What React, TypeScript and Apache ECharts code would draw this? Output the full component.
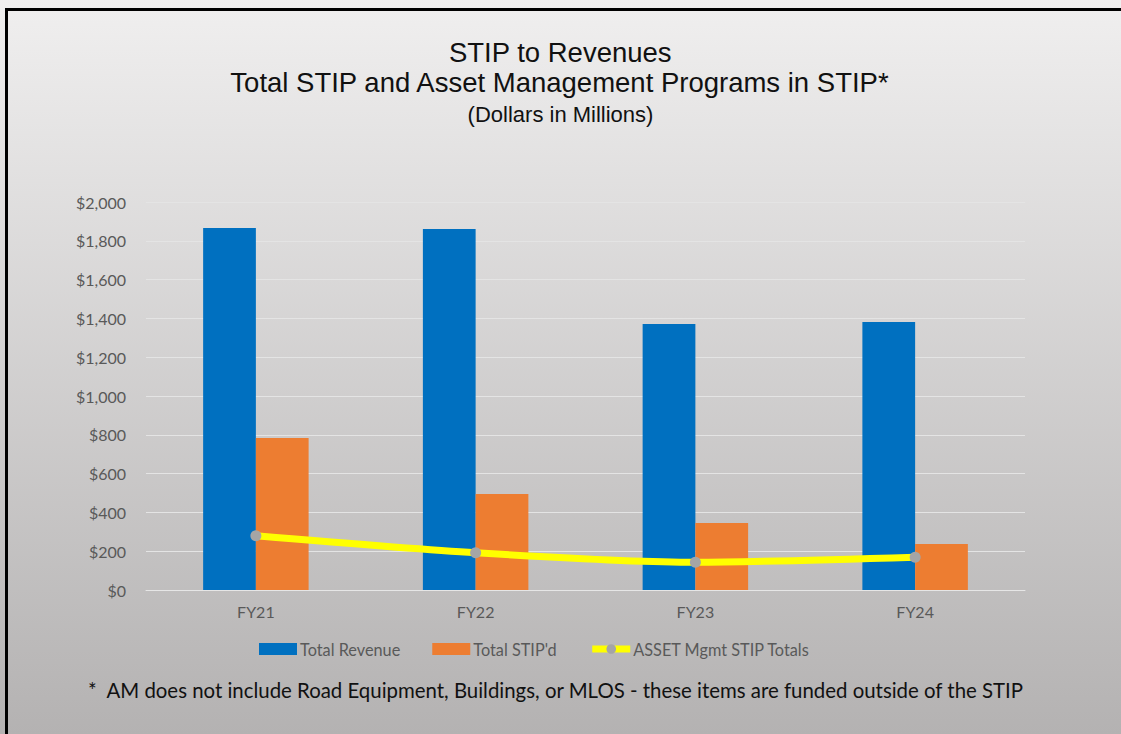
import React, { useEffect, useRef } from "react";
import * as echarts from "echarts";

const categories = ["FY21", "FY22", "FY23", "FY24"];
const totalRevenue = [1866, 1861, 1371, 1381];
const totalStipd = [784, 495, 345, 237];
const assetMgmt = [280, 192, 143, 169];
const yTicks = { min: 0, max: 2000, interval: 200 };

const titleLines = [
  "STIP to Revenues",
  "Total STIP and Asset Management Programs in STIP*",
  "(Dollars in Millions)",
];
const footnote =
  "*  AM does not include Road Equipment, Buildings, or MLOS - these items are funded outside of the STIP";

export default function App() {
  const ref = useRef<HTMLDivElement>(null);
  useEffect(() => {
    if (!ref.current) return;
    const chart = echarts.init(ref.current, null, { renderer: "svg" });
    const labelFont = "Lato, 'Open Sans', sans-serif";
    const titleFont = "'Liberation Sans', Arial, sans-serif";
    chart.setOption({
      animation: false,
      backgroundColor: {
        type: "linear",
        x: 0,
        y: 0,
        x2: 0,
        y2: 1,
        colorStops: [
          { offset: 0, color: "#f0efef" },
          { offset: 1, color: "#b4b2b2" },
        ],
      },
      grid: { left: 146, right: 96, top: 202, bottom: 144, containLabel: false },
      legend: {
        left: 254,
        top: 636,
        itemWidth: 38,
        itemHeight: 12,
        itemGap: 32,
        textStyle: { fontFamily: labelFont, fontSize: 16.3, color: "#595959", padding: [0, 0, 0, -2] },
        data: [
          { name: "Total Revenue", icon: "rect" },
          { name: "Total STIP'd", icon: "rect" },
          { name: "ASSET Mgmt STIP Totals", lineStyle: { width: 7 } },
        ],
      },
      xAxis: {
        type: "category",
        data: categories,
        axisLine: { lineStyle: { color: "#e6e6e6", width: 1 } },
        axisTick: { show: false },
        axisLabel: { fontFamily: labelFont, fontSize: 16, color: "#595959", margin: 13 },
      },
      yAxis: {
        type: "value",
        min: yTicks.min,
        max: yTicks.max,
        interval: yTicks.interval,
        axisLine: { show: false },
        axisTick: { show: false },
        splitLine: { lineStyle: { color: "#e4e4e4", width: 1 } },
        axisLabel: {
          fontFamily: labelFont,
          fontSize: 16,
          color: "#595959",
          margin: 20,
          formatter: (v: number) => "$" + v.toLocaleString("en-US"),
        },
      },
      series: [
        {
          name: "Total Revenue",
          type: "bar",
          data: totalRevenue,
          itemStyle: { color: "#0070c0" },
          barGap: "0%",
          barCategoryGap: "52%",
        },
        {
          name: "Total STIP'd",
          type: "bar",
          data: totalStipd,
          itemStyle: { color: "#ed7d31" },
        },
        {
          name: "ASSET Mgmt STIP Totals",
          type: "line",
          data: assetMgmt,
          smooth: 0.25,
          symbol: "circle",
          symbolSize: 11,
          itemStyle: { color: "#a5a5a5" },
          lineStyle: { color: "#ffff00", width: 7 },
          z: 5,
        },
      ],
      graphic: [
        {
          type: "text",
          left: "center",
          top: 38,
          style: { text: titleLines[0], fontFamily: titleFont, fontSize: 27.5, fill: "#111" },
        },
        {
          type: "text",
          left: "center",
          top: 68,
          style: { text: titleLines[1], fontFamily: titleFont, fontSize: 27.5, fill: "#111" },
        },
        {
          type: "text",
          left: "center",
          top: 103,
          style: { text: titleLines[2], fontFamily: titleFont, fontSize: 22, fill: "#111" },
        },
        {
          type: "text",
          left: 88,
          top: 680,
          style: { text: footnote, fontFamily: labelFont, fontSize: 20.4, fill: "#111" },
        },
        {
          type: "rect",
          shape: { x: 5, y: 8, width: 1116, height: 3 },
          style: { fill: "#000" },
        },
        {
          type: "rect",
          shape: { x: 5, y: 8, width: 3, height: 726 },
          style: { fill: "#000" },
        },
      ],
    });
    return () => chart.dispose();
  }, []);
  return (
    <div
      ref={ref}
      style={{ position: "fixed", left: 0, top: 0, width: 1121, height: 734 }}
    />
  );
}
